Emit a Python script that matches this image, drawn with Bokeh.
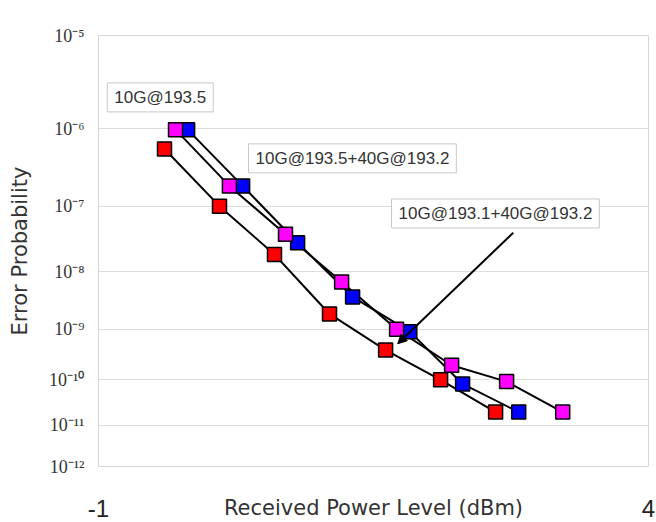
import math
from bokeh.plotting import figure
from bokeh.models import FixedTicker, Label, Arrow, NormalHead, Range1d
from bokeh.embed import file_html
from bokeh.resources import INLINE

# ---- data (received power in dBm, error probability) ----
red_x = [-0.40, 0.10, 0.60, 1.10, 1.61, 2.11, 2.61]
red_ber = [5.7e-7, 1.0e-7, 1.9e-8, 1.9e-9, 4.0e-10, 1.0e-10, 2.0e-11]

blue_x = [-0.19, 0.31, 0.81, 1.31, 1.83, 2.31, 2.82]
blue_ber = [9.8e-7, 1.9e-7, 2.9e-8, 3.8e-9, 9.0e-10, 8.2e-11, 2.0e-11]

mag_x = [-0.30, 0.19, 0.70, 1.21, 1.71, 2.21, 2.71, 3.22]
mag_ber = [9.8e-7, 1.9e-7, 3.9e-8, 6.8e-9, 1.0e-9, 2.0e-10, 9.2e-11, 2.0e-11]

decades = [-5, -6, -7, -8, -9, -10, -11, -12]
x_ticks = [-1, 4]
x_tick_labels = ["-1", "4"]

label1 = "10G@193.5"
label2 = "10G@193.5+40G@193.2"
label3 = "10G@193.1+40G@193.2"


def qinv(ber):
    lo, hi = 0.0, 40.0
    for _ in range(200):
        mid = 0.5 * (lo + hi)
        if 0.5 * math.erfc(mid / math.sqrt(2)) > ber:
            lo = mid
        else:
            hi = mid
    return 0.5 * (lo + hi)


def ytr(ber):
    # BER paper: axis linear in log10(Q)
    return -math.log10(qinv(ber))


SUP = str.maketrans("-0123456789", "⁻⁰¹²³⁴⁵⁶⁷⁸⁹")

y_tick_pos = [ytr(10.0 ** d) for d in decades]

p = figure(width=656, height=522,
           x_range=Range1d(-1, 4),
           y_range=Range1d(ytr(1e-12), ytr(1e-5)),
           output_backend="svg", toolbar_location=None,
           min_border_left=98, min_border_right=8,
           min_border_top=35, min_border_bottom=56)

p.background_fill_color = "white"
p.border_fill_color = "white"
p.outline_line_color = "#d6d6d6"
p.outline_line_width = 1

# grid
p.xgrid.visible = False
p.ygrid.ticker = FixedTicker(ticks=y_tick_pos)
p.ygrid.grid_line_color = "#dcdcdc"
p.ygrid.grid_line_width = 1

# y axis
p.yaxis.ticker = FixedTicker(ticks=y_tick_pos)
p.yaxis.major_label_overrides = {
    t: "10" + str(d).translate(SUP) for t, d in zip(y_tick_pos, decades)}
p.yaxis.axis_line_color = None
p.yaxis.major_tick_line_color = None
p.yaxis.minor_tick_line_color = None
p.yaxis.major_label_text_font = "Liberation Serif"
p.yaxis.major_label_text_font_size = "18px"
p.yaxis.major_label_text_color = "#333333"
p.yaxis.major_label_standoff = 8
p.yaxis.axis_label = "Error Probability"
p.yaxis.axis_label_text_font = "DejaVu Sans"
p.yaxis.axis_label_text_font_size = "21px"
p.yaxis.axis_label_text_font_style = "normal"
p.yaxis.axis_label_text_color = "#333333"
p.yaxis.axis_label_standoff = 14

# x axis
p.xaxis.ticker = FixedTicker(ticks=x_ticks)
p.xaxis.major_label_overrides = dict(zip(x_ticks, x_tick_labels))
p.xaxis.axis_line_color = None
p.xaxis.major_tick_line_color = None
p.xaxis.minor_tick_line_color = None
p.xaxis.major_label_text_font = "Liberation Sans"
p.xaxis.major_label_text_font_size = "24px"
p.xaxis.major_label_text_color = "#222222"
p.xaxis.major_label_standoff = 27
p.xaxis.axis_label = "Received Power Level (dBm)"
p.xaxis.axis_label_text_font = "DejaVu Sans"
p.xaxis.axis_label_text_font_size = "21px"
p.xaxis.axis_label_text_font_style = "normal"
p.xaxis.axis_label_text_color = "#333333"
p.xaxis.axis_label_standoff = -24

series = [
    (red_x, red_ber, "#ff0000"),
    (blue_x, blue_ber, "#0000ff"),
    (mag_x, mag_ber, "#ff00ff"),
]

for xs, bers, col in series:
    p.line(xs, [ytr(b) for b in bers], line_color="black", line_width=2)

for xs, bers, col in series:
    p.scatter(xs, [ytr(b) for b in bers], marker="square", size=14,
              fill_color=col, line_color="black", line_width=1.5)

# annotations
p.add_layout(Arrow(x_start=2.77, y_start=ytr(4.1e-8), x_end=1.72, y_end=ytr(5.3e-10),
                   line_color="black", line_width=2,
                   end=NormalHead(size=9, fill_color="black", line_color="black")))

for txt, lx, lber in [(label1, -0.92, 3.3e-6), (label2, 0.364, 6.6e-7), (label3, 1.664, 1.26e-7)]:
    p.add_layout(Label(x=lx, y=ytr(lber), text=txt, anchor="top_left",
                       text_font="Liberation Sans", text_font_size="17px",
                       text_color="#333333",
                       padding=dict(left=7, right=7, top=5, bottom=5),
                       background_fill_color="white",
                       border_line_color="#c8c8c8", border_line_width=1))

open("out.html", "w").write(file_html(p, INLINE))
